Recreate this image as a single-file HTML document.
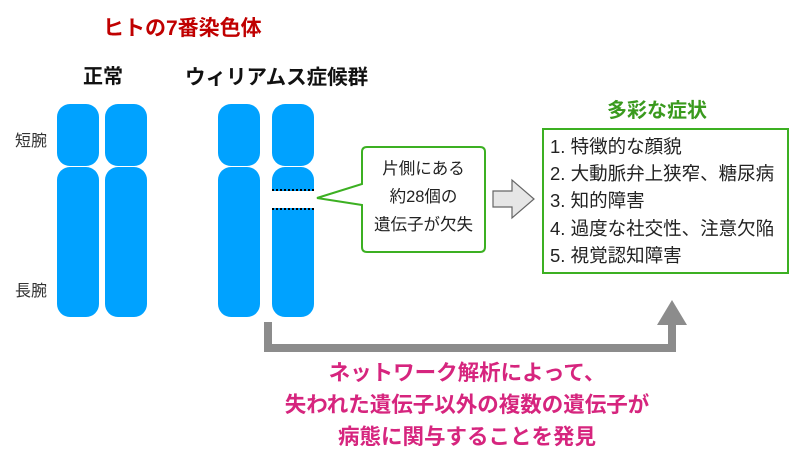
<!DOCTYPE html>
<html><head><meta charset="utf-8"><style>
body{margin:0;width:800px;height:459px;background:#fff;overflow:hidden;position:relative;font-family:"Liberation Sans","Noto Sans CJK JP",sans-serif}
.t{position:absolute;white-space:nowrap}
.c{position:absolute;background:#00a2ff;border-radius:13px;box-sizing:border-box}
</style></head><body>
<div class="t" style="left:103px;top:12px;font-size:21px;font-weight:bold;color:#c00000">ヒトの7番染色体</div>
<div class="t" style="left:83px;top:60px;font-size:20px;font-weight:bold;color:#111">正常</div>
<div class="t" style="left:185px;top:60px;font-size:20.5px;font-weight:bold;color:#111">ウィリアムス症候群</div>
<div class="t" style="left:15px;top:127px;font-size:16px;color:#333">短腕</div>
<div class="t" style="left:15px;top:277px;font-size:16px;color:#333">長腕</div>

<div class="c" style="left:57px;top:104px;width:42px;height:62px"></div>
<div class="c" style="left:57px;top:167px;width:42px;height:150px"></div>
<div class="c" style="left:105px;top:104px;width:42px;height:62px"></div>
<div class="c" style="left:105px;top:167px;width:42px;height:150px"></div>
<div class="c" style="left:218px;top:104px;width:42px;height:62px"></div>
<div class="c" style="left:218px;top:167px;width:42px;height:150px"></div>
<div class="c" style="left:272px;top:104px;width:42px;height:62px"></div>
<div class="c" style="left:272px;top:167px;width:42px;height:24px;border-radius:13px 13px 0 0;border-bottom:2px dotted #000"></div>
<div class="c" style="left:272px;top:208px;width:42px;height:109px;border-radius:0 0 13px 13px;border-top:2px dotted #000"></div>

<svg style="position:absolute;left:0;top:0" width="800" height="459">
<path d="M362 184 L362 152 Q362 147 367 147 L480 147 Q485 147 485 152 L485 247 Q485 252 480 252 L367 252 Q362 252 362 247 L362 205 L317 198 Z" fill="#fff" stroke="#3cb022" stroke-width="2"/>
<path d="M493 191 L512 191 L512 180 L534 199 L512 218 L512 207 L493 207 Z" fill="#e6e6e6" stroke="#666" stroke-width="1.2"/>
<rect x="543" y="129" width="245" height="144" fill="#fff" stroke="#3cb022" stroke-width="2"/>
<path d="M268 322 L268 348 L672 348 L672 318" fill="none" stroke="#8c8c8c" stroke-width="8"/>
<path d="M657 325 L672 300 L687 325 Z" fill="#8c8c8c"/>
</svg>
<div class="t" style="left:362px;top:155px;width:123px;text-align:center;font-size:16.5px;line-height:28px;color:#222">片側にある<br>約28個の<br>遺伝子が欠失</div>
<div class="t" style="left:607px;top:94px;font-size:20px;font-weight:bold;color:#3a9a1e">多彩な症状</div>
<div class="t" style="left:550px;top:133px;font-size:18.5px;line-height:27.2px;color:#222">1. 特徴的な顔貌<br>2. 大動脈弁上狭窄、糖尿病<br>3. 知的障害<br>4. 過度な社交性、注意欠陥<br>5. 視覚認知障害</div>
<div class="t" style="left:217px;top:357px;width:500px;text-align:center;font-size:21.5px;font-weight:bold;line-height:32px;color:#d6257e">ネットワーク解析によって、<br>失われた遺伝子以外の複数の遺伝子が<br>病態に関与することを発見</div>
</body></html>
